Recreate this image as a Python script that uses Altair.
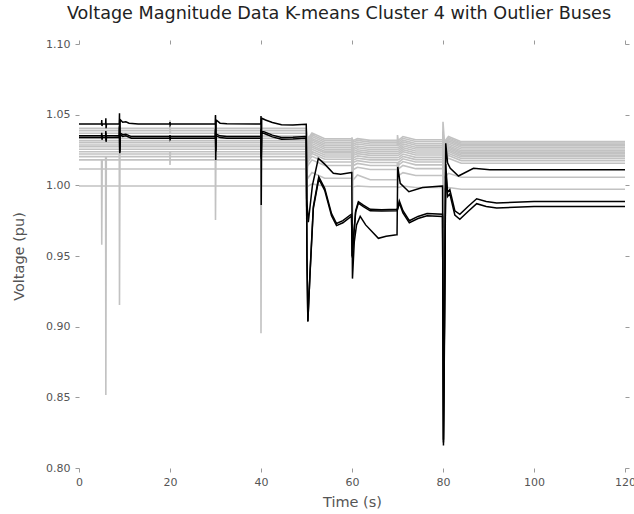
import altair as alt
import pandas as pd

# ---------------- data ----------------
TITLE = "Voltage Magnitude Data K-means Cluster 4 with Outlier Buses"
X_TICKS = [0, 20, 40, 60, 80, 100, 120]
Y_TICKS = [0.80, 0.85, 0.90, 0.95, 1.00, 1.05, 1.10]

# gray buses: level in each interval [0-50], [50-60], [60-70], [70-80], [80-120]
gray_lvl_0 = [1.0403, 1.0387, 1.0368, 1.0349, 1.0333, 1.0316, 1.0302, 1.0285,
              1.0273, 1.0255, 1.0238, 1.0222, 1.0203, 1.0180, 1.0116, 0.9995]
gray_lvl_50 = [1.0330, 1.0318, 1.0305, 1.0292, 1.0280, 1.0268, 1.0255, 1.0242,
               1.0230, 1.0215, 1.0200, 1.0185, 1.0165, 1.0140, 1.0050, 0.9993]
gray_lvl_60 = [1.0318, 1.0306, 1.0292, 1.0280, 1.0266, 1.0254, 1.0240, 1.0226,
               1.0212, 1.0196, 1.0180, 1.0162, 1.0140, 1.0112, 1.0040, 0.9990]
gray_lvl_70 = [1.0322, 1.0310, 1.0296, 1.0284, 1.0270, 1.0257, 1.0243, 1.0229,
               1.0215, 1.0198, 1.0182, 1.0165, 1.0145, 1.0118, 1.0070, 0.9985]
gray_lvl_80 = [1.0309, 1.0300, 1.0290, 1.0280, 1.0269, 1.0257, 1.0245, 1.0235,
               1.0225, 1.0214, 1.0203, 1.0190, 1.0175, 1.0156, 1.0057, 0.9972]
# rebound value shortly after each switching event
gray_reb_50 = [1.0370, 1.0358, 1.0345, 1.0332, 1.0320, 1.0308, 1.0295, 1.0282,
               1.0270, 1.0255, 1.0240, 1.0225, 1.0205, 1.0180, 1.0090, 1.0010]
gray_reb_60 = [1.0330, 1.0318, 1.0305, 1.0292, 1.0278, 1.0266, 1.0252, 1.0238,
               1.0224, 1.0208, 1.0192, 1.0175, 1.0155, 1.0128, 1.0073, 0.9995]
gray_reb_70 = [1.0345, 1.0333, 1.0320, 1.0307, 1.0293, 1.0280, 1.0266, 1.0252,
               1.0238, 1.0221, 1.0205, 1.0188, 1.0168, 1.0141, 1.0090, 0.9995]
gray_reb_80 = [1.0345, 1.0336, 1.0326, 1.0316, 1.0305, 1.0293, 1.0281, 1.0271,
               1.0261, 1.0250, 1.0239, 1.0226, 1.0211, 1.0192, 1.0085, 0.9985]

# event times and the extreme value reached by individual gray buses
event_times = [5.0, 5.9, 8.9, 20.0, 30.0, 40.0, 50.0, 60.0, 70.0, 80.0]
switch_times = [50.0, 60.0, 70.0, 80.0]
gray_spikes = {
    5.0: {13: 0.958},
    5.9: {12: 0.8516},
    8.9: {11: 0.9153, 3: 1.046},
    20.0: {10: 1.0144, 2: 1.046},
    30.0: {9: 0.9755, 1: 1.049},
    40.0: {8: 0.8953, 0: 1.048},
    50.0: {5: 0.985, 7: 0.990},
    60.0: {4: 0.950, 6: 1.034},
    70.0: {3: 1.0356, 11: 1.000},
    80.0: {0: 1.045, 2: 0.970, 6: 1.038},
}

# outlier (black) buses
tA = [0, 4.95, 5.0, 5.05, 5.15, 5.85, 5.9, 5.95, 6.05, 6.6, 8.85, 8.9, 8.95, 9.05,
      9.6, 10.3, 11.0, 13.0, 19.95, 20.0, 20.05, 20.15, 29.95, 30.0, 30.05, 30.15,
      31.0, 32.5, 39.95, 40.0, 40.05, 40.15, 41.0, 42.5, 44.5, 47.0, 49.9, 49.95,
      50.05, 50.4, 51.3, 52.6, 54.0, 55.9, 57.5, 59.9, 59.95, 60.1, 60.5, 61.0,
      61.8, 63.0, 65.8, 67.5, 69.8, 69.9, 70.05, 70.6, 72.5, 75.5, 79.8, 79.9,
      80.1, 80.35, 80.6, 81.0, 81.6, 83.4, 86.7, 90.3, 100, 120]
vA = [1.0434, 1.0434, 1.0462, 1.0420, 1.0434, 1.0434, 1.0474, 1.0404, 1.0436, 1.0434,
      1.0434, 1.0510, 1.0227, 1.0465, 1.0446, 1.0450, 1.0440, 1.0434, 1.0434, 1.0448,
      1.0428, 1.0434, 1.0434, 1.0498, 1.0180, 1.0462, 1.0440, 1.0436, 1.0434, 1.0490,
      0.9860, 1.0475, 1.0462, 1.0445, 1.0428, 1.0427, 1.0432, 1.0432, 0.9900, 0.9740,
      1.0000, 1.0190, 1.0150, 1.0085, 1.0078, 1.0090, 1.0090, 0.9340, 0.9600, 0.9720,
      0.9780, 0.9720, 0.9625, 0.9640, 0.9650, 0.9650, 1.0130, 1.0014, 0.9955, 0.9985,
      0.9995, 0.9995, 0.8160, 0.9000, 1.0297, 1.0160, 1.0120, 1.0066, 1.0120, 1.0110,
      1.0110, 1.0110]

tB = [0, 4.95, 5.0, 5.05, 5.15, 5.85, 5.9, 5.95, 6.05, 8.85, 8.9, 8.95, 9.05, 9.6,
      10.3, 11.5, 13.0, 19.95, 20.0, 20.05, 20.15, 29.95, 30.0, 30.05, 30.15, 31.0,
      32.5, 39.95, 40.0, 40.05, 40.15, 41.0, 42.5, 44.5, 47.0, 49.9, 49.95, 50.1,
      50.3, 50.8, 51.5, 52.7, 54.0, 55.5, 56.6, 58.0, 59.6, 59.9, 60.05, 60.3, 60.8,
      61.4, 62.5, 64.0, 66.5, 69.9, 70.05, 70.4, 71.2, 72.6, 74.5, 76.5, 79.9, 80.1,
      80.35, 80.6, 81.0, 81.5, 82.6, 83.7, 85.5, 87.4, 89.5, 91.8, 100, 120]
vB = [1.0350, 1.0350, 1.0372, 1.0335, 1.0350, 1.0350, 1.0385, 1.0320, 1.0352, 1.0350,
      1.0420, 1.0240, 1.0370, 1.0358, 1.0362, 1.0345, 1.0345, 1.0345, 1.0355, 1.0338,
      1.0345, 1.0345, 1.0400, 1.0250, 1.0362, 1.0350, 1.0346, 1.0345, 1.0400, 1.0200,
      1.0385, 1.0375, 1.0355, 1.0338, 1.0340, 1.0345, 1.0345, 0.9500, 0.9035, 0.9400,
      0.9850, 1.0060, 0.9980, 0.9800, 0.9730, 0.9750, 0.9790, 0.9795, 0.9500, 0.9620,
      0.9820, 0.9884, 0.9860, 0.9830, 0.9828, 0.9830, 0.9840, 0.9890, 0.9820, 0.9750,
      0.9780, 0.9800, 0.9795, 0.8200, 0.9200, 1.0150, 0.9950, 0.9970, 0.9820, 0.9795,
      0.9850, 0.9905, 0.9885, 0.9875, 0.9885, 0.9885]
vC = [1.0338, 1.0338, 1.0360, 1.0322, 1.0338, 1.0338, 1.0372, 1.0308, 1.0340, 1.0338,
      1.0410, 1.0230, 1.0358, 1.0346, 1.0350, 1.0333, 1.0333, 1.0333, 1.0343, 1.0326,
      1.0333, 1.0333, 1.0388, 1.0238, 1.0350, 1.0338, 1.0334, 1.0333, 1.0388, 1.0188,
      1.0373, 1.0363, 1.0343, 1.0326, 1.0328, 1.0333, 1.0333, 0.9480, 0.9040, 0.9390,
      0.9835, 1.0045, 0.9965, 0.9785, 0.9715, 0.9735, 0.9775, 0.9780, 0.9490, 0.9610,
      0.9810, 0.9874, 0.9850, 0.9820, 0.9818, 0.9820, 0.9830, 0.9875, 0.9805, 0.9735,
      0.9765, 0.9785, 0.9780, 0.8180, 0.9150, 1.0100, 0.9920, 0.9940, 0.9790, 0.9760,
      0.9815, 0.9870, 0.9850, 0.9840, 0.9850, 0.9850]

# ---------------- build tables ----------------
levels = [gray_lvl_0, gray_lvl_50, gray_lvl_60, gray_lvl_70, gray_lvl_80]
rebounds = {50.0: gray_reb_50, 60.0: gray_reb_60, 70.0: gray_reb_70, 80.0: gray_reb_80}

rows = []
for i in range(len(gray_lvl_0)):
    seg = 0
    pts = [(0.0, levels[0][i])]
    for te in event_times:
        cur = levels[seg][i]
        pts.append((te - 0.05, cur))
        sp = gray_spikes.get(te, {}).get(i)
        if sp is not None:
            pts.append((te, sp))
        if te in switch_times:
            seg += 1
            new = levels[seg][i]
            pts.append((te + 0.3, new))
            pts.append((te + 1.2, rebounds[te][i]))
            pts.append((te + 4.0, new))
        else:
            pts.append((te + 0.1, cur))
    pts.append((120.0, levels[seg][i]))
    for k, (t, v) in enumerate(pts):
        rows.append({"t": t, "v": v, "bus": f"g{i}", "k": k})
gray_df = pd.DataFrame(rows)

brows = []
for name, ts, vs in [("A", tA, vA), ("B", tB, vB), ("C", tB, vC)]:
    for k, (t, v) in enumerate(zip(ts, vs)):
        brows.append({"t": t, "v": v, "bus": name, "k": k})
black_df = pd.DataFrame(brows)

# ---------------- chart ----------------
xs = alt.Scale(domain=[0, 120], nice=False, zero=False)
ys = alt.Scale(domain=[0.80, 1.10], nice=False, zero=False)

ax_common = dict(domain=False, grid=False, tickSize=4, tickColor="#9a9a9a",
                 tickWidth=1, labelColor="#555555", labelFont="DejaVu Sans",
                 labelFontSize=11, labelFlush=False, titleColor="#555555",
                 titleFont="DejaVu Sans", titleFontSize=14.5, titleFontWeight="normal")

gray = alt.Chart(gray_df).mark_line(color="#c2c2c2", strokeWidth=1.6).encode(
    x=alt.X("t:Q", scale=xs, title="Time (s)",
            axis=alt.Axis(values=X_TICKS, format="d", labelPadding=4,
                          titlePadding=8, **ax_common)),
    y=alt.Y("v:Q", scale=ys, title="Voltage (pu)",
            axis=alt.Axis(values=Y_TICKS, format=".2f", labelPadding=5,
                          titlePadding=19, **ax_common)),
    detail="bus:N",
    order="k:Q",
)

black = alt.Chart(black_df).mark_line(color="#000000", strokeWidth=1.5).encode(
    x=alt.X("t:Q", scale=xs, title=None,
            axis=alt.Axis(orient="top", values=X_TICKS, labels=False, domain=False,
                          grid=False, tickSize=4, tickColor="#9a9a9a")),
    y=alt.Y("v:Q", scale=ys, title=None,
            axis=alt.Axis(orient="right", values=Y_TICKS, labels=False, domain=False,
                          grid=False, tickSize=4, tickColor="#9a9a9a")),
    detail="bus:N",
    order="k:Q",
)

chart = alt.layer(gray, black).resolve_axis(x="independent", y="independent").properties(
    width=546, height=424,
    autosize=alt.AutoSizeParams(type="none"),
    padding={"left": 79, "top": 44, "right": 9, "bottom": 46},
    title=alt.TitleParams(TITLE, font="DejaVu Sans", fontSize=17.6, fontWeight="normal",
                          color="#222222", anchor="middle", offset=15, dx=-13),
).configure_view(stroke=None)

chart.save("out.html", embed_options={"renderer": "svg", "actions": False})
